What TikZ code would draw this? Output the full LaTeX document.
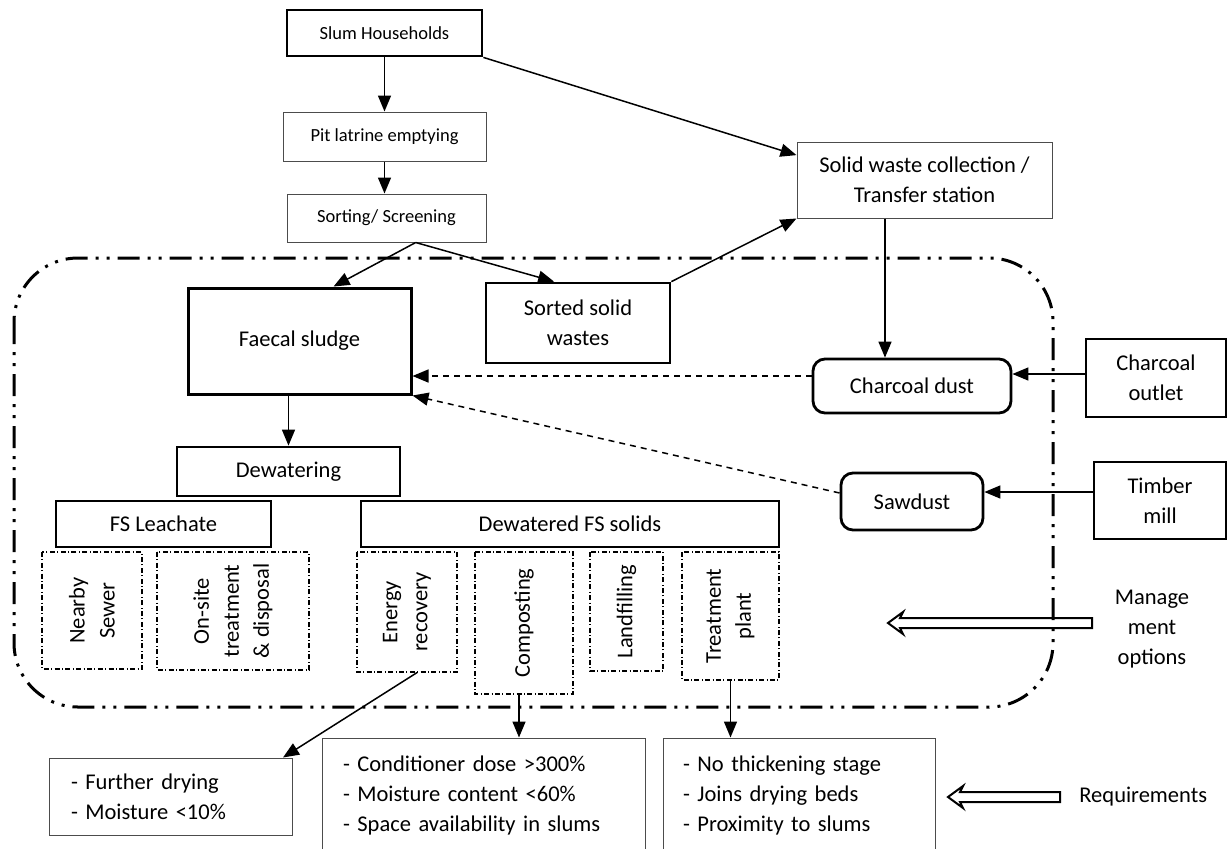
\documentclass[tikz,border=0pt]{standalone}
\usepackage{fontspec}
\setmainfont{Carlito}
\usetikzlibrary{arrows.meta}
\newcommand\boxfont{\fontsize{11.25}{15}\selectfont}
\newcommand\topfont{\fontsize{9.25}{12}\selectfont}
\tikzset{
  heavybox/.style={draw, line width=1.4pt, inner sep=0pt, align=center, font=\boxfont},
  lightbox/.style={draw=black!70, line width=0.5pt, inner sep=0pt, align=center, font=\boxfont},
  roundbox/.style={heavybox, rounded corners=6pt},
  srcbox/.style={draw, line width=1pt, inner sep=0pt, align=center, font=\boxfont},
  optbox/.style={draw, line width=0.6pt, dash pattern=on 2.5pt off 1.2pt on 0.5pt off 1.2pt, inner sep=0pt, align=center, font=\boxfont, rotate=90},
  reqbox/.style={draw=black!70, line width=0.5pt, inner ysep=0pt, align=left, font=\boxfont},
  flow/.style={-{Triangle[length=8pt,width=6.5pt]}, line width=0.75pt},
  dashflow/.style={flow, dash pattern=on 3pt off 2.5pt},
  hollow/.style={line width=1pt, line join=miter},
}

\begin{document}
\begin{tikzpicture}[x=0.5pt,y=0.5pt,yscale=-1]
\useasboundingbox (0,0) rectangle (1228,848);

%Shape: management options frame
\draw [line width=1.5pt, rounded corners=32pt, dash pattern=on 11pt off 4pt on 1.5pt off 4pt on 1.5pt off 4pt] (14,258) rectangle (1053,707);

%Boxes: collection chain
\node [heavybox, font=\topfont, minimum width=97.5pt, minimum height=23pt] (house) at (384.5,33) {Slum Households};
\node [lightbox, font=\topfont, minimum width=101.5pt, minimum height=24.5pt] (pit) at (384.5,136.5) {Pit latrine emptying};
\node [lightbox, font=\topfont, minimum width=99.5pt, minimum height=24pt] (sorting) at (386.5,218) {Sorting/ Screening};
\node [lightbox, minimum width=127.5pt, minimum height=38pt] (swcoll) at (924.5,180) {Solid waste collection /\\Transfer station};

%Boxes: inside the frame
\node [heavybox, line width=1.5pt, minimum width=111.5pt, minimum height=53pt] (faecal) at (299.5,341) {Faecal sludge};
\node [heavybox, minimum width=92pt, minimum height=40pt] (sorted) at (578,323) {Sorted solid\\wastes};
\node [roundbox, minimum width=99pt, minimum height=27pt] (chardust) at (912,386) {Charcoal dust};
\node [roundbox, minimum width=71pt, minimum height=28.5pt] (sawdust) at (912,501.5) {Sawdust};
\node [heavybox, minimum width=111.5pt, minimum height=24.5pt] (dewater) at (288.5,471.5) {Dewatering};
\node [heavybox, minimum width=107.5pt, minimum height=23pt] (leachate) at (163.5,524) {FS Leachate};
\node [heavybox, minimum width=209pt, minimum height=23pt] (fssolids) at (570,524) {Dewatered FS solids};

%Boxes: sources outside the frame
\node [srcbox, minimum width=70pt, minimum height=39pt] (charout) at (1156,378) {Charcoal\\outlet};
\node [srcbox, minimum width=66pt, minimum height=38.5pt] (timber) at (1160,500.5) {Timber\\mill};

%Options (rotated, west = bottom)
\node [optbox, minimum width=58.5pt, minimum height=50pt] (sewer) at (92,610.5) {Nearby\\Sewer};
\node [optbox, minimum width=59pt, minimum height=76pt] (onsite) at (233,611) {On-site\\treatment\\\& disposal};
\node [optbox, minimum width=60pt, minimum height=50pt] (energy) at (407,612) {Energy\\recovery};
\node [optbox, minimum width=71pt, minimum height=49pt] (compost) at (524,623) {Composting};
\node [optbox, minimum width=59.5pt, minimum height=36.5pt] (landfill) at (626.5,611.5) {Landfilling};
\node [optbox, minimum width=64pt, minimum height=48.5pt] (treatplant) at (730.5,616) {Treatment\\plant};

%Requirements
\node [reqbox, inner xsep=11pt, text width=99.5pt, minimum height=38.5pt] (dryreq) at (170.5,796.5) {- Further drying\\- Moisture <10\%};
\node [reqbox, inner xsep=10.5pt, text width=140.5pt, minimum height=57pt] (compreq) at (483.5,795) {- Conditioner dose >300\%\\- Moisture content <60\%\\- Space availability in slums};
\node [reqbox, inner xsep=10pt, text width=116pt, minimum height=57pt] (plantreq) at (799,795) {- No thickening stage\\- Joins drying beds\\- Proximity to slums};

%Side labels
\node [align=center, font=\boxfont] (mgmttxt) at (1152,629) {Manage\\ment\\options};
\node [anchor=west, font=\boxfont, inner sep=0pt] (reqtxt) at (1079,797) {Requirements};

%Connectors
\draw [flow] (house) -- (pit);
\draw [flow] (pit.south) -- (pit.south |- sorting.north);
\draw [flow] (house.south east) -- (swcoll.169);
\draw [flow] (sorting.320) -- (faecal.58);
\draw [flow] (sorting.320) -- (sorted.120);
\draw [flow] (sorted.north east) -- (swcoll.south west);
\draw [flow] (swcoll.south -| 885,0) -- (chardust.north -| 885,0);
\draw [flow] (faecal.south -| dewater.north) -- (dewater.north);
\draw [flow] (charout.west |- 0,374) -- (chardust.east |- 0,374);
\draw [flow] (timber.west |- 0,492) -- (sawdust.east |- 0,492);
\draw [dashflow] (chardust.west |- 0,376) -- (faecal.east |- 0,376);
\draw [dashflow] (sawdust.west |- 0,493) -- (faecal.south east);
\draw [flow] (energy.west -| 417,0) -- (dryreq.north -| 283,0);
\draw [flow] (compost.west -| 519,0) -- (compreq.north -| 519,0);
\draw [flow] (treatplant.west) -- (treatplant.west |- plantreq.north);

%Shape: hollow arrows
\draw [hollow] (1092,618) -- (900,618) -- (903,612) -- (888,623) -- (903,634) -- (900,628) -- (1092,628) -- cycle;
\draw [hollow] (1060,792) -- (960,792) -- (963,786) -- (948,797) -- (963,808) -- (960,802) -- (1060,802) -- cycle;

\end{tikzpicture}
\end{document}
